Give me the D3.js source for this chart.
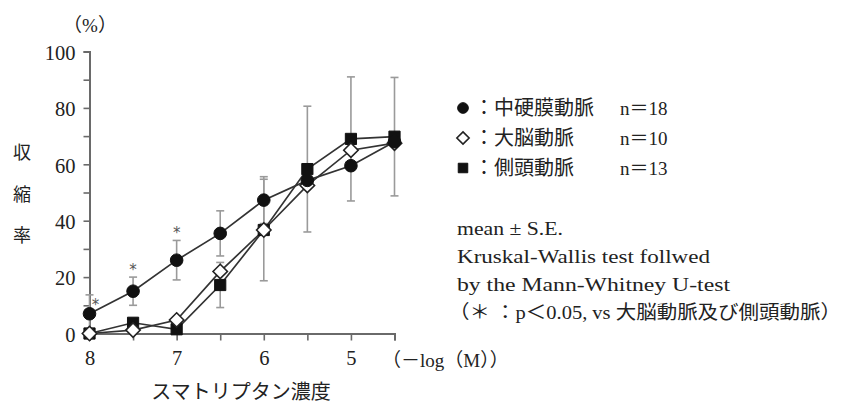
<!DOCTYPE html>
<html>
<head>
<meta charset="utf-8">
<script src="https://cdn.jsdelivr.net/npm/d3@7"></script>
<style>
  html, body { margin: 0; padding: 0; background: #fff; }
  svg { display: block; }
  text { font-family: "Liberation Serif", "Noto Sans CJK JP", serif; fill: #222; }
</style>
</head>
<body>
<svg id="chart" width="841" height="403"></svg>
<script>
// -log(M) concentrations of sumatriptan
const concentrations = [8, 7.5, 7, 6.5, 6, 5.5, 5, 4.5];

// contraction (%) per artery, mean values
const meningeal = [7, 15, 26, 35.5, 47.3, 54.3, 59.5, 68];   // 中硬膜動脈
const cerebral  = [0, 1.2, 4.8, 22, 36.7, 52.5, 65, 67.5];   // 大脳動脈
const temporal  = [0, 3.8, 1.5, 17.2, 36.7, 58.3, 69, 69.8]; // 側頭動脈

// S.E. bars (null where a bar is not drawn)
const meningealSE = [6.7, 5, 7, 8, 8.3, null, null, null];
const cerebralSE  = [null, null, null, null, null, null, null, null];
const temporalSE  = [null, null, null, 8, 18, 22.3, 22, 21];

// significance marks (p<0.05 vs 大脳動脈及び側頭動脈)
const significant = [true, true, true, false, false, false, false, false];

const yTicks = [0, 20, 40, 60, 80, 100];
const yMinorTicks = [10, 30, 50, 70, 90];
const xTickLabels = [8, 7, 6, 5];

const legendItems = [
  { shape: "circle",  label: "中硬膜動脈", n: "n＝18" },
  { shape: "diamond", label: "大脳動脈",   n: "n＝10" },
  { shape: "square",  label: "側頭動脈",   n: "n＝13" }
];
const noteLines = [
  { text: "mean ± S.E.", width: 106 },
  { text: "Kruskal-Wallis test follwed", width: 253 },
  { text: "by the Mann-Whitney U-test", width: 273 },
  { text: "（＊ ：p＜0.05, vs 大脳動脈及び側頭動脈）", width: 392 }
];

const svg = d3.select("#chart");
const x = d3.scaleLinear().domain([8, 4.5]).range([89.5, 394.5]);
const y = d3.scaleLinear().domain([0, 100]).range([333.5, 51.5]);

const axisColor = "#6a6a6a";
const lineColor = "#333";
const errColor = "#9a9a9a";

// y axis: labelled major ticks and unlabelled minor ticks
const yAxis = svg.append("g").attr("transform", `translate(${x(8)},0)`)
  .call(d3.axisLeft(y).tickValues(yTicks).tickSize(6).tickPadding(8).tickFormat(d3.format("d")));
svg.append("g").attr("transform", `translate(${x(8)},0)`)
  .call(d3.axisLeft(y).tickValues(yMinorTicks).tickSize(6).tickFormat(""))
  .select(".domain").remove();

// x axis with a tick at every half step
const xAxis = svg.append("g").attr("transform", `translate(0,${y(0)})`)
  .call(d3.axisBottom(x).tickValues(concentrations).tickSize(7).tickPadding(10)
    .tickFormat(d => xTickLabels.includes(d) ? d3.format("d")(d) : ""));

svg.selectAll("g").attr("font-family", null).attr("font-size", null);
svg.selectAll(".domain").attr("stroke", axisColor).attr("stroke-width", 2);
svg.selectAll(".tick line").attr("stroke", axisColor).attr("stroke-width", 1.6);
svg.selectAll(".tick text").attr("font-size", 20.5).attr("fill", "#222");
yAxis.selectAll(".tick text").attr("dy", "0.38em");
xAxis.selectAll(".tick text").attr("dy", "0.72em");

// error bars
const seriesDefs = [
  { values: temporal,  se: temporalSE,  shape: "square" },
  { values: cerebral,  se: cerebralSE,  shape: "diamond" },
  { values: meningeal, se: meningealSE, shape: "circle" }
];
const errG = svg.append("g");
seriesDefs.forEach(s => {
  concentrations.forEach((c, i) => {
    const e = s.se[i];
    if (e == null) return;
    const hi = s.values[i] + e, lo = Math.max(0, s.values[i] - e);
    errG.append("line").attr("x1", x(c)).attr("x2", x(c)).attr("y1", y(hi)).attr("y2", y(lo))
      .attr("stroke", errColor).attr("stroke-width", 1.6);
    [hi, lo].forEach(v => {
      if (v <= 0) return;
      errG.append("line").attr("x1", x(c) - 4).attr("x2", x(c) + 4).attr("y1", y(v)).attr("y2", y(v))
        .attr("stroke", errColor).attr("stroke-width", 1.6);
    });
  });
});

// connecting lines
const line = d3.line().x((d, i) => x(concentrations[i])).y(d => y(d));
seriesDefs.forEach(s => {
  svg.append("path").datum(s.values).attr("d", line)
    .attr("fill", "none").attr("stroke", lineColor).attr("stroke-width", 1.7);
});

// markers: filled circle, open diamond (equal diagonals), filled square
function shapePath(shape, r) {
  if (shape === "circle") return d3.symbol().type(d3.symbolCircle).size(Math.PI * r * r)();
  if (shape === "square") return `M${-r},${-r}H${r}V${r}H${-r}Z`;
  return `M0,${-r}L${r},0L0,${r}L${-r},0Z`;
}
const markStyle = {
  circle:  { r: 6.3, fill: "#111", stroke: "#111", sw: 1 },
  square:  { r: 5.6, fill: "#111", stroke: "#111", sw: 1 },
  diamond: { r: 7.2, fill: "#fff", stroke: "#222", sw: 1.6 }
};
function drawSymbol(g, shape, cx, cy, scale = 1) {
  const st = markStyle[shape];
  g.append("path")
    .attr("d", shapePath(shape, st.r * scale))
    .attr("transform", `translate(${cx},${cy})`)
    .attr("fill", st.fill).attr("stroke", st.stroke).attr("stroke-width", st.sw);
}
const markG = svg.append("g");
seriesDefs.forEach(s => {
  s.values.forEach((v, i) => drawSymbol(markG, s.shape, x(concentrations[i]), y(v)));
});

// asterisks above the 中硬膜動脈 bars
concentrations.forEach((c, i) => {
  if (!significant[i]) return;
  const top = y(meningeal[i] + meningealSE[i]);
  const first = i === 0;
  svg.append("text")
    .attr("x", x(c) + (first ? 6 : 0))
    .attr("y", first ? top + 15 : top - 2)
    .attr("text-anchor", "middle")
    .attr("font-size", 15)
    .style("fill", "#555")
    .style("font-family", "'DejaVu Sans', sans-serif")
    .text("*");
});

// axis titles
svg.append("text").attr("x", 90).attr("y", 32).attr("text-anchor", "middle")
  .attr("font-size", 19).text("（%）");
["収", "縮", "率"].forEach((ch, i) => {
  svg.append("text").attr("x", 22).attr("y", 159 + i * 41.5).attr("text-anchor", "middle")
    .attr("font-size", 18).text(ch);
});
svg.append("text").attr("x", 382).attr("y", 367).attr("font-size", 19).text("（－log（M））");
svg.append("text").attr("x", 241).attr("y", 399).attr("text-anchor", "middle")
  .attr("font-size", 20).text("スマトリプタン濃度");

// legend
legendItems.forEach((d, i) => {
  const cy = 108 + i * 30;
  drawSymbol(svg, d.shape, 463, cy, 0.85);
  svg.append("text").attr("x", 474).attr("y", cy + 7).attr("font-size", 20).text("：" + d.label);
  svg.append("text").attr("x", 620).attr("y", cy + 7).attr("font-size", 19).text(d.n);
});

// notes
noteLines.forEach((d, i) => {
  svg.append("text").attr("x", i === 3 ? 449 : 457).attr("y", 235 + i * 28)
    .attr("font-size", 19)
    .attr("textLength", d.width).attr("lengthAdjust", "spacingAndGlyphs")
    .text(d.text);
});
</script>
</body>
</html>
